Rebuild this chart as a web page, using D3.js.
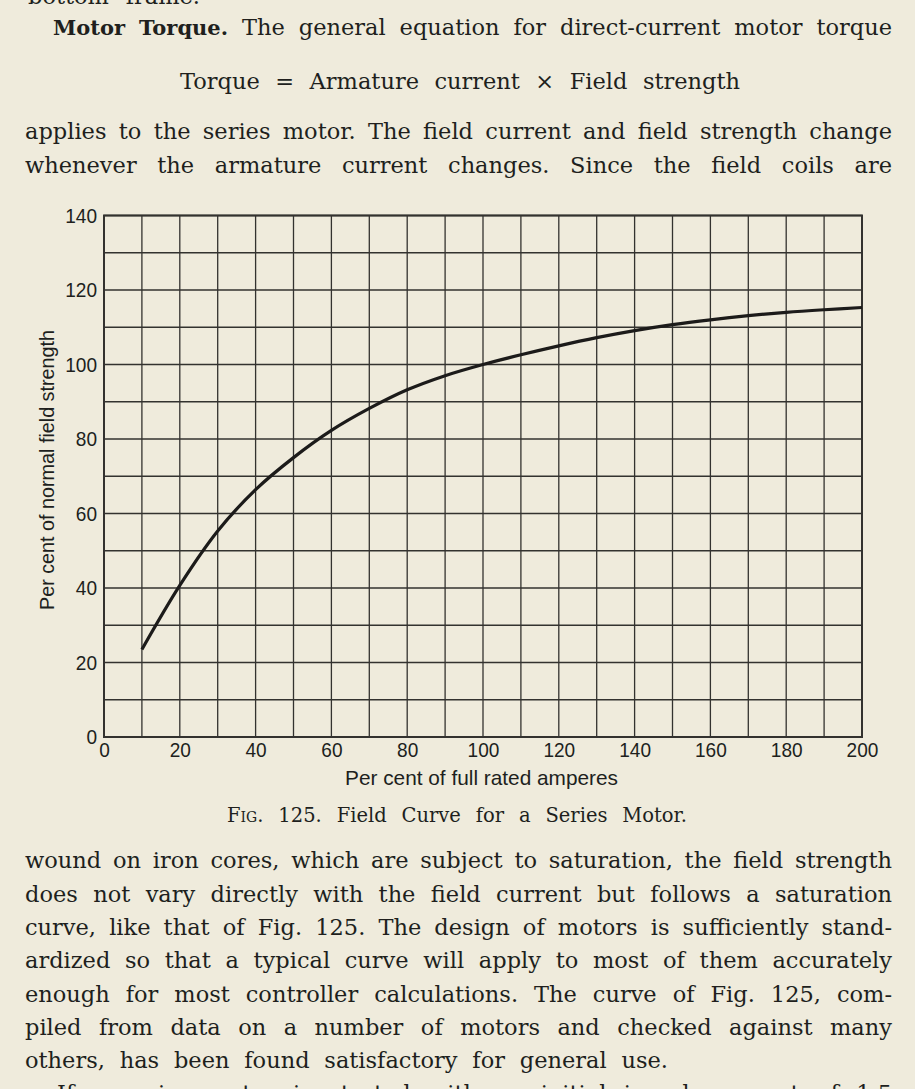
<!DOCTYPE html>
<html>
<head>
<meta charset="utf-8">
<script src="https://cdn.jsdelivr.net/npm/d3@7"></script>
<style>
  html, body { margin: 0; padding: 0; background: #efebdc; }
  svg { display: block; }
</style>
</head>
<body>
<svg id="page" width="915" height="1089"></svg>
<script>
// ---------------- data ----------------
const amperes = [10, 20, 30, 40, 50, 60, 70, 80, 90, 100, 110, 120, 130, 140, 150, 160, 170, 180, 190, 200];
const fieldStrength = [23.5, 40.7, 55.3, 66.4, 75, 82.3, 88.2, 93.2, 97, 100, 102.6, 105, 107.2, 109.1, 110.7, 112, 113.1, 114, 114.7, 115.3];
const xTickLabels = [0, 20, 40, 60, 80, 100, 120, 140, 160, 180, 200];
const yTickLabels = [0, 20, 40, 60, 80, 100, 120, 140];
const xGridValues = [0, 10, 20, 30, 40, 50, 60, 70, 80, 90, 100, 110, 120, 130, 140, 150, 160, 170, 180, 190, 200];
const yGridValues = [0, 10, 20, 30, 40, 50, 60, 70, 80, 90, 100, 110, 120, 130, 140];
const xTitle = "Per cent of full rated amperes";
const yTitle = "Per cent of normal field strength";
const captionLabel = "Fig. 125.";
const captionText = "Field Curve for a Series Motor.";
const cutTopLine = "bottom frame.";
const headRun = "Motor Torque.";
const firstLine = "The general equation for direct-current motor torque";
const equation = "Torque = Armature current \u00D7 Field strength";
const topLines = [
  "applies to the series motor.  The field current and field strength change",
  "whenever the armature current changes.  Since the field coils are"
];
const bottomLines = [
  "wound on iron cores, which are subject to saturation, the field strength",
  "does not vary directly with the field current but follows a saturation",
  "curve, like that of Fig. 125.  The design of motors is sufficiently stand-",
  "ardized so that a typical curve will apply to most of them accurately",
  "enough for most controller calculations.  The curve of Fig. 125, com-",
  "piled from data on a number of motors and checked against many"
];
const lastLine = "others, has been found satisfactory for general use.";
const nextParagraph = "If a series motor is started with an initial inrush current of 1.5";

// ---------------- page ----------------
const ink = "#201f1d";
const serif = "'DejaVu Serif', 'Liberation Serif', serif";
const sans = "'Liberation Sans', Arial, sans-serif";
const svg = d3.select("#page");
svg.append("rect").attr("width", 915).attr("height", 1089).attr("fill", "#efebdc");

const textG = svg.append("g").attr("fill", ink).style("font-family", serif).style("font-size", "22.5px");

function justify(sel, width) {
  const node = sel.node();
  const str = node.textContent;
  const spaces = (str.match(/ /g) || []).length;
  const nat = node.getComputedTextLength();
  if (spaces) sel.style("word-spacing", ((width - nat) / spaces) + "px");
}
function plainLine(str, x, y) {
  return textG.append("text").attr("x", x).attr("y", y).text(str.replace(/  +/g, " "));
}

const L = 25, R = 892;
justify(plainLine(cutTopLine, 28, 4), 172);

const l1 = textG.append("text").attr("x", 53).attr("y", 35);
l1.append("tspan").attr("font-weight", "bold").style("font-size", "21px").text(headRun);
l1.append("tspan").text(" " + firstLine);
justify(l1, R - 53);

justify(textG.append("text").attr("x", 180).attr("y", 89).text(equation), 560);

const topBase = [139, 173];
topLines.forEach((s, i) => justify(plainLine(s, L, topBase[i]), R - L));

const botBase = [868.3, 901.7, 935, 968.3, 1001.7, 1034.5];
bottomLines.forEach((s, i) => justify(plainLine(s, L, botBase[i]), R - L));
justify(plainLine(lastLine, L, 1067.7), 668 - L);
justify(plainLine(nextParagraph, 57, 1101), R - 57);

// caption
const cap = textG.append("text").attr("x", 227).attr("y", 821.7).style("font-size", "19.5px");
cap.append("tspan").style("font-variant", "small-caps").text(captionLabel);
cap.append("tspan").text(" " + captionText);
justify(cap, 687 - 227);

// ---------------- chart ----------------
const x = d3.scaleLinear().domain([0, 200]).range([104, 862]);
const y = d3.scaleLinear().domain([0, 140]).range([737, 215.5]);
const chart = svg.append("g");
const gridColor = "#33322f";

chart.append("g").selectAll("line").data(xGridValues).join("line")
  .attr("x1", d => x(d)).attr("x2", d => x(d))
  .attr("y1", y(0)).attr("y2", y(140))
  .attr("stroke", gridColor).attr("stroke-width", 1.3);
chart.append("g").selectAll("line").data(yGridValues).join("line")
  .attr("y1", d => y(d)).attr("y2", d => y(d))
  .attr("x1", x(0)).attr("x2", x(200))
  .attr("stroke", gridColor).attr("stroke-width", 1.3);
chart.append("rect")
  .attr("x", x(0)).attr("y", y(140))
  .attr("width", x(200) - x(0)).attr("height", y(0) - y(140))
  .attr("fill", "none").attr("stroke", gridColor).attr("stroke-width", 2);

const pts = amperes.map((a, i) => [a, fieldStrength[i]]);
chart.append("path").datum(pts)
  .attr("fill", "none").attr("stroke", "#1c1b1a").attr("stroke-width", 3.2)
  .attr("stroke-linecap", "butt")
  .attr("d", d3.line().x(d => x(d[0])).y(d => y(d[1])).curve(d3.curveCatmullRom.alpha(0.5)));

// axes (labels only)
const digitW = 10.6;
const xAxis = chart.append("g").attr("transform", `translate(0,${y(0)})`)
  .call(d3.axisBottom(x).tickValues(xTickLabels).tickSize(0).tickPadding(5).tickFormat(d3.format("d")));
const yAxis = chart.append("g").attr("transform", `translate(${x(0)},0)`)
  .call(d3.axisLeft(y).tickValues(yTickLabels).tickSize(0).tickPadding(7).tickFormat(d3.format("d")));
[xAxis, yAxis].forEach(a => {
  a.select(".domain").remove();
  a.attr("font-family", null).attr("font-size", null);
  a.selectAll("text")
    .attr("fill", ink).style("font-family", sans).style("font-size", "21px")
    .attr("textLength", function () { return this.textContent.length * digitW; })
    .attr("lengthAdjust", "spacingAndGlyphs");
});

chart.append("text").attr("x", 481.5).attr("y", 785).attr("text-anchor", "middle")
  .attr("fill", ink).style("font-family", sans).style("font-size", "21px")
  .attr("textLength", 273).attr("lengthAdjust", "spacingAndGlyphs").text(xTitle);
chart.append("text").attr("transform", "translate(53.5,470) rotate(-90)").attr("text-anchor", "middle")
  .attr("fill", ink).style("font-family", sans).style("font-size", "21px")
  .attr("textLength", 280).attr("lengthAdjust", "spacingAndGlyphs").text(yTitle);
</script>
</body>
</html>
